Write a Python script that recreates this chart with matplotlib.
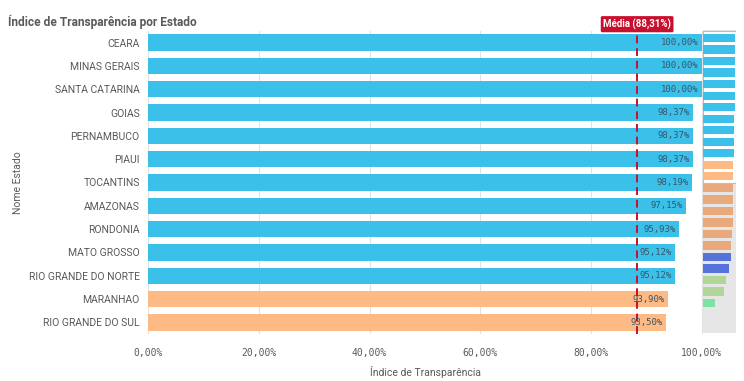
import matplotlib.pyplot as plt
from matplotlib.patches import Rectangle

estados = ['CEARA', 'MINAS GERAIS', 'SANTA CATARINA', 'GOIAS', 'PERNAMBUCO',
           'PIAUI', 'TOCANTINS', 'AMAZONAS', 'RONDONIA', 'MATO GROSSO',
           'RIO GRANDE DO NORTE', 'MARANHAO', 'RIO GRANDE DO SUL']
indice = [100.00, 100.00, 100.00, 98.37, 98.37, 98.37, 98.19, 97.15,
          95.93, 95.12, 95.12, 93.90, 93.50]
faixa = ['A'] * 11 + ['B'] * 2
media = 88.31

# estados fora da janela (so aparecem na mini barra de rolagem)
indice_oculto = [92.5, 92.0, 91.8, 91.5, 90.2, 87.6, 86.0, 80.5, 70.2, 63.4, 37.0]
faixa_oculta = ['C'] * 6 + ['D'] * 2 + ['E'] * 2 + ['F']

cores = {'A': '#3BC0EA', 'B': '#FDBA85', 'C': '#E8AA7C', 'D': '#5673D9',
         'E': '#B2D69A', 'F': '#7EE2A6'}

cinza = '#595959'
fig = plt.figure(figsize=(7.44, 3.81), dpi=100)
ax = fig.add_axes([148 / 744, 1 - 334 / 381, 555 / 744, 303 / 381])

y = list(range(len(estados)))
ax.barh(y, indice, height=0.7, color=[cores[f] for f in faixa], zorder=2)
ax.set_ylim(len(estados) - 0.5, -0.5)
ax.set_xlim(0, 100.2)
ax.set_yticks(y)
ax.set_yticklabels(estados, fontsize=7.5, color=cinza, family='Roboto')
ax.set_xticks(range(0, 101, 20))
ax.set_xticklabels(['{:.2f}%'.format(v).replace('.', ',') for v in range(0, 101, 20)],
                   fontsize=7, color=cinza, family='DejaVu Sans Mono')
ax.tick_params(length=0, pad=6)
ax.tick_params(axis='x', pad=10)
for s in ax.spines.values():
    s.set_visible(False)
ax.grid(axis='x', color='#E2E2E2', lw=0.8, zorder=0)

for yi, v in zip(y, indice):
    ax.text(v - 0.6, yi, '{:.2f}%'.format(v).replace('.', ','), ha='right', va='center',
            fontsize=6.5, color='#3D5566', family='DejaVu Sans Mono', zorder=4)

ax.axvline(media, color='#C8102E', lw=1.4, ls=(0, (4, 2.5)), zorder=3)
ax.text(media, -0.55, 'Média ({:.2f}%)'.format(media).replace('.', ','), ha='center', va='bottom',
        fontsize=7, color='white', family='Roboto', fontweight='bold', clip_on=False,
        bbox=dict(boxstyle='round,pad=0.25,rounding_size=0.15', fc='#C8102E', ec='none'))

ax.set_xlabel('Índice de Transparência', fontsize=7.5, color=cinza, family='Roboto', labelpad=6)
ax.set_ylabel('Nome Estado', fontsize=7.5, color=cinza, family='Roboto')
ax.yaxis.set_label_coords(-0.225, 0.5)

fig.text(8 / 744, 1 - 22 / 381, 'Índice de Transparência por Estado', fontsize=8.6,
         fontweight='bold', color=cinza, family='Roboto', va='center')

# mini barra de rolagem
mini = fig.add_axes([703 / 744, 1 - 333 / 381, 33 / 744, 303 / 381])
todos = indice + indice_oculto
todas_faixas = faixa + faixa_oculta
ym = list(range(len(todos)))
mini.set_facecolor('#E6E6E6')
mini.barh(ym, todos, height=0.72, color=[cores[f] for f in todas_faixas], zorder=2)
mini.set_xlim(0, 102)
mini.set_ylim(25.6, -0.7)
mini.set_xticks([])
mini.set_yticks([])
for s in mini.spines.values():
    s.set_visible(False)
mini.add_patch(Rectangle((0, -0.6), 102, len(estados) + 0.2, fc='white', ec='#BDBDBD',
                         lw=0.8, zorder=1))

fig.savefig('out.png', dpi=100)
